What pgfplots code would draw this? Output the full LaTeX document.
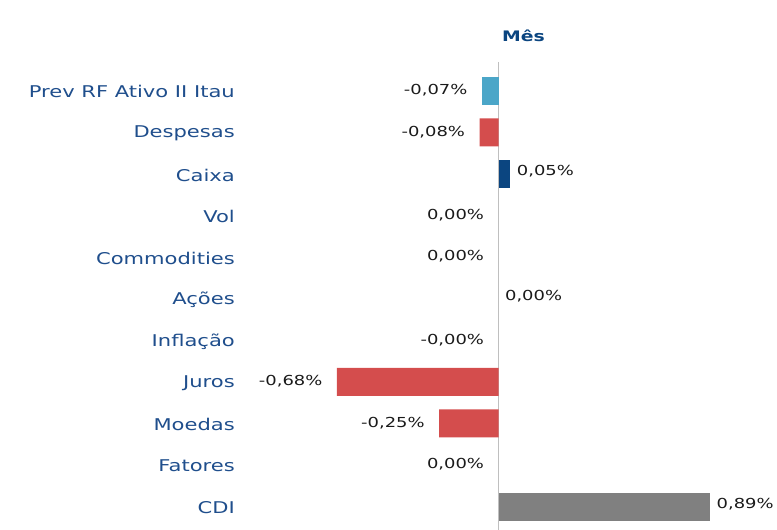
\documentclass[border=0pt]{standalone}
\usepackage{fontspec}
\setmainfont{DejaVu Sans}[FakeStretch=1.3]
\usepackage{pgfplots}
\pgfplotsset{compat=1.18}
\definecolor{lblue}{HTML}{4BA6C8}
\definecolor{bred}{HTML}{D44D4D}
\definecolor{dblue}{HTML}{0B4580}
\definecolor{bgray}{HTML}{808080}
\definecolor{cat}{HTML}{1F4E8C}
\definecolor{zline}{HTML}{BFBFBF}
\definecolor{lbl}{HTML}{1A1A1A}
\begin{document}
\begin{tikzpicture}
\begin{axis}[
  scale only axis,
  width=537pt, height=468pt,
  xmin=-1.0882, xmax=1.168,
  ymin=-0.697, ymax=10.553,
  y dir=reverse,
  axis line style={draw=none},
  xtick=\empty,
  ytick={0,1,2,3,4,5,6,7,8,9,10},
  yticklabels={Prev RF Ativo II Itau,Despesas,Caixa,Vol,Commodities,Ações,Inflação,Juros,Moedas,Fatores,CDI},
  yticklabel style={font=\fontsize{16.2}{18}\selectfont, text=cat, xshift=-1.5pt, yshift=-1pt},
  major tick length=0pt,
  clip=false,
  xbar, bar width=28pt,
]
\path (axis cs:-2.0966,-2.1875) rectangle (axis cs:1.168,10.553);
\draw[zline, line width=0.9pt] (axis cs:0,-0.70) -- (axis cs:0,10.553);
\addplot[xbar, bar shift=0pt, fill=lblue, draw=none] coordinates {(-0.07,0)};
\addplot[xbar, bar shift=0pt, fill=bred, draw=none] coordinates {(-0.08,1) (-0.68,7) (-0.25,8)};
\addplot[xbar, bar shift=0pt, fill=dblue, draw=none] coordinates {(0.05,2)};
\addplot[xbar, bar shift=0pt, fill=bgray, draw=none] coordinates {(0.89,10)};
\addplot[draw=none, mark=none, xbar=0pt, bar width=0pt, fill=none, point meta=explicit symbolic,
  nodes near coords, nodes near coords align=horizontal,
  every node near coord/.append style={anchor=east, xshift=-11pt, yshift=-2.5pt, font=\fontsize{13.8}{15}\selectfont, text=lbl}]
  coordinates {(-0.07,0) [-0,07\%] (-0.08,1) [-0,08\%] (-0.0001,3) [0,00\%] (-0.0001,4) [0,00\%]
   (-0.0001,6) [-0,00\%] (-0.68,7) [-0,68\%] (-0.25,8) [-0,25\%] (-0.0001,9) [0,00\%]};
\addplot[draw=none, mark=none, xbar=0pt, bar width=0pt, fill=none, point meta=explicit symbolic,
  nodes near coords, nodes near coords align=horizontal,
  every node near coord/.append style={anchor=west, xshift=3pt, yshift=-2.5pt, font=\fontsize{13.8}{15}\selectfont, text=lbl}]
  coordinates {(0.05,2) [0,05\%] (0.0001,5) [0,00\%] (0.89,10) [0,89\%]};
\node[font=\bfseries\fontsize{14.5}{16}\selectfont, text=dblue] at (axis cs:0.105,-1.32) {Mês};
\end{axis}
\end{tikzpicture}
\end{document}
